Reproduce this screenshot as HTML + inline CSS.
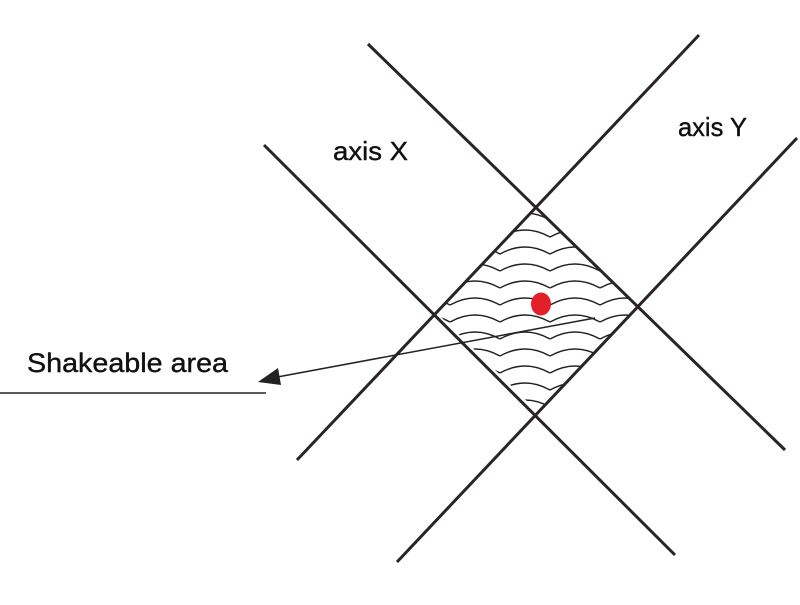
<!DOCTYPE html>
<html><head><meta charset="utf-8"><style>html,body{margin:0;padding:0;background:#fff}</style></head>
<body>
<svg width="800" height="600" xmlns="http://www.w3.org/2000/svg">
<defs>
<clipPath id="d"><polygon points="536,206 638,307 538,412 437,313"/></clipPath>
</defs>
<g id="waves" clip-path="url(#d)" fill="none" stroke="#222" stroke-width="1.4"></g>
<g stroke="#2a2424" stroke-width="3" stroke-linecap="butt">
<line x1="368" y1="44" x2="785" y2="450"/>
<line x1="264" y1="145" x2="675" y2="555"/>
<line x1="699" y1="35" x2="297" y2="460"/>
<line x1="797" y1="138" x2="397" y2="562"/>
</g>
<ellipse cx="541" cy="304" rx="10" ry="11.5" fill="#e3202a"/>
<line x1="595" y1="318" x2="272" y2="378" stroke="#222" stroke-width="1.5"/>
<polygon points="258,382 278,368 281,385" fill="#222"/>
<line x1="0" y1="393" x2="266" y2="393" stroke="#222" stroke-width="1.5"/>
<g font-family="Liberation Sans, sans-serif" fill="#111" stroke="#111" stroke-width="0.4">
<text x="27" y="372" font-size="27" textLength="201" lengthAdjust="spacingAndGlyphs">Shakeable area</text>
<text x="333" y="160" font-size="26" textLength="75" lengthAdjust="spacingAndGlyphs">axis X</text>
<text x="678" y="136" font-size="26" textLength="69" lengthAdjust="spacingAndGlyphs">axis Y</text>
</g>
<script>
var g=document.getElementById('waves'),d='';
for(var y=220;y<=420;y+=17){for(var x=400;x<700;x+=50){d+='M'+x+','+y+' Q'+(x+25)+','+(y-14)+' '+(x+50)+','+y+' ';}}
var p=document.createElementNS('http://www.w3.org/2000/svg','path');p.setAttribute('d',d);g.appendChild(p);
</script>
</svg>
</body></html>
